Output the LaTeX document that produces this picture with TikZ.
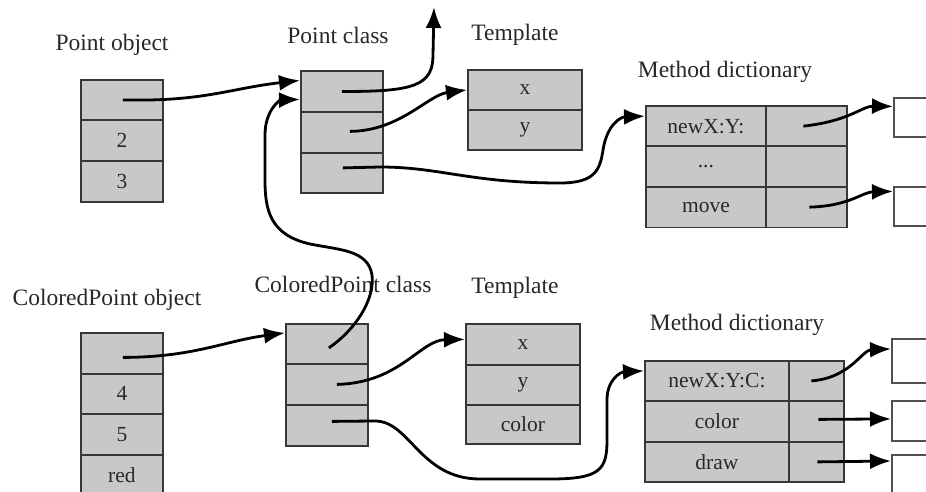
\documentclass[tikz,border=0pt]{standalone}
\usepackage{fontspec}
\setmainfont{Liberation Serif}
\usetikzlibrary{arrows.meta,calc}
\definecolor{cellgray}{RGB}{200,200,200}
\definecolor{boxline}{RGB}{55,55,55}
\definecolor{extline}{RGB}{80,80,80}
\definecolor{txt}{RGB}{40,40,40}
\newcommand\lblfont{\fontsize{23.5}{25}\selectfont}
\newcommand\cellfont{\fontsize{21.5}{23}\selectfont}
\tikzset{
  cell/.style 2 args={draw=boxline, fill=cellgray, line width=1.8pt, minimum width=#1, minimum height=#2, inner sep=0pt, anchor=north west, font=\cellfont, text=txt},
  ext/.style 2 args={draw=extline, fill=white, line width=1.8pt, minimum width=#1, minimum height=#2, inner sep=0pt, anchor=north west},
  lbl/.style={font=\lblfont, text=txt, inner sep=0pt},
  ptr/.style={line width=2.8pt, draw=black, -{Latex[length=21pt,width=16pt]}}
}
\begin{document}
\begin{tikzpicture}[x=1pt,y=-1pt]
\clip (0,0) rectangle (926,492);
\fill[white] (0,0) rectangle (926,492);
% labels
\node[lbl] (lpo) at (112,45) {Point object};
\node[lbl] (lpc) at (338,35) {Point class};
\node[lbl] (lt1) at (515,35) {Template};
\node[lbl] (lmd1) at (725,72) {Method dictionary};
\node[lbl] (lcpo) at (107,300) {ColoredPoint object};
\node[lbl] (lcpc) at (343,284) {ColoredPoint class};
\node[lbl] (lt2) at (515,288) {Template};
\node[lbl] (lmd2) at (737,325) {Method dictionary};
% Point object
\node[cell={82pt}{40pt}] (po1) at (80,79) {};
\node[cell={82pt}{41pt}] (po2) at (80,119) {2};
\node[cell={82pt}{41pt}] (po3) at (80,160) {3};
% Point class
\node[cell={82pt}{41pt}] (pc1) at (300,70) {};
\node[cell={82pt}{41pt}] (pc2) at (300,111) {};
\node[cell={82pt}{40pt}] (pc3) at (300,152) {};
% Template top
\node[cell={114pt}{40pt}] (t1) at (467,69) {x};
\node[cell={114pt}{40pt}] (t2) at (467,109) {y};
% Method dictionary top
\node[cell={120pt}{40.5pt}] (md11) at (645,105) {newX:Y:};
\node[cell={81pt}{40.5pt}] (md12) at (765,105) {};
\node[cell={120pt}{40.5pt}] (md21) at (645,145.5) {...};
\node[cell={81pt}{40.5pt}] (md22) at (765,145.5) {};
\node[cell={120pt}{40.5pt}] (md31) at (645,186) {move};
\node[cell={81pt}{40.5pt}] (md32) at (765,186) {};
\node[ext={60pt}{39pt}] (rb1) at (893,97) {};
\node[ext={60pt}{39pt}] (rb2) at (893,186) {};
% ColoredPoint object
\node[cell={82pt}{41pt}] (cpo1) at (80,332) {};
\node[cell={82pt}{40pt}] (cpo2) at (80,373) {4};
\node[cell={82pt}{41pt}] (cpo3) at (80,413) {5};
\node[cell={82pt}{41pt}] (cpo4) at (80,454) {red};
% ColoredPoint class
\node[cell={82pt}{40pt}] (cpc1) at (285,323) {};
\node[cell={82pt}{41pt}] (cpc2) at (285,363) {};
\node[cell={82pt}{41pt}] (cpc3) at (285,404) {};
% Template bottom
\node[cell={114pt}{41pt}] (tb1) at (465,323) {x};
\node[cell={114pt}{40pt}] (tb2) at (465,364) {y};
\node[cell={114pt}{39pt}] (tb3) at (465,404) {color};
% Method dictionary bottom
\node[cell={144pt}{40pt}] (mdb11) at (644,360) {newX:Y:C:};
\node[cell={55pt}{40pt}] (mdb12) at (788,360) {};
\node[cell={144pt}{41pt}] (mdb21) at (644,400) {color};
\node[cell={55pt}{41pt}] (mdb22) at (788,400) {};
\node[cell={144pt}{40pt}] (mdb31) at (644,441) {draw};
\node[cell={55pt}{40pt}] (mdb32) at (788,441) {};
\node[ext={60pt}{44pt}] (rbb1) at (891,338) {};
\node[ext={60pt}{40pt}] (rbb2) at (891,400) {};
\node[ext={60pt}{45pt}] (rbb3) at (891,454) {};
\coordinate (up) at (434,7);
% pointers
\draw[ptr] ($(po1.center)+(1,0)$) .. controls +(80,2) and +(-70,8) .. ($(pc1.west)+(0,-11)$);
\draw[ptr] (pc1.center) .. controls (415,92) and (433,85) .. (433,55) -- (up);
\draw[ptr] ($(pc2.center)+(8,-1)$) .. controls (400,131) and (428,95) .. (t1.west);
\draw[ptr] ($(pc3.center)+(1,-5)$) -- (380,167) .. controls (440,167) and (470,183) .. (560,183) .. controls (595,183) and (600,170) .. (603,150) .. controls (607,125) and (620,117) .. ($(md11.west)+(0,-10)$);
\draw[ptr] ($(md12.center)+(-3,0)$) .. controls (850,121) and (862,106) .. ($(rb1.west)+(0,-11)$);
\draw[ptr] ($(md32.center)+(3,0)$) .. controls (850,206) and (862,192) .. ($(rb2.west)+(0,-15)$);
\draw[ptr] ($(cpo1.center)+(1,4)$) .. controls +(70,0) and +(-60,8) .. ($(cpc1.west)+(0,-11)$);
\draw[ptr] ($(cpc1.center)+(2,4)$) .. controls (355,330) and (375,300) .. (372,275) .. controls (368,250) and (340,250) .. (310,244) .. controls (270,235) and (265,210) .. (265,180) -- (265,135) .. controls (265,110) and (280,100) .. ($(pc1.west)+(0,8)$);
\draw[ptr] ($(cpc2.center)+(10,0)$) .. controls (400,383) and (420,340) .. ($(tb1.west)+(0,-5)$);
\draw[ptr] ($(cpc3.center)+(5,-4)$) -- (375,421) .. controls (410,421) and (420,479) .. (480,479) -- (550,479) .. controls (600,479) and (607,470) .. (607,440) -- (607,400) .. controls (607,380) and (620,372) .. ($(mdb11.west)+(0,-10)$);
\draw[ptr] ($(mdb12.center)+(-5,0)$) .. controls (850,378) and (862,350) .. ($(rbb1.west)+(0,-12)$);
\draw[ptr] ($(mdb22.center)+(2,-2)$) -- ($(rbb2.west)+(0,-2)$);
\draw[ptr] ($(mdb32.center)+(1,0)$) -- ($(rbb3.north west)+(0,7)$);
\end{tikzpicture}
\end{document}
